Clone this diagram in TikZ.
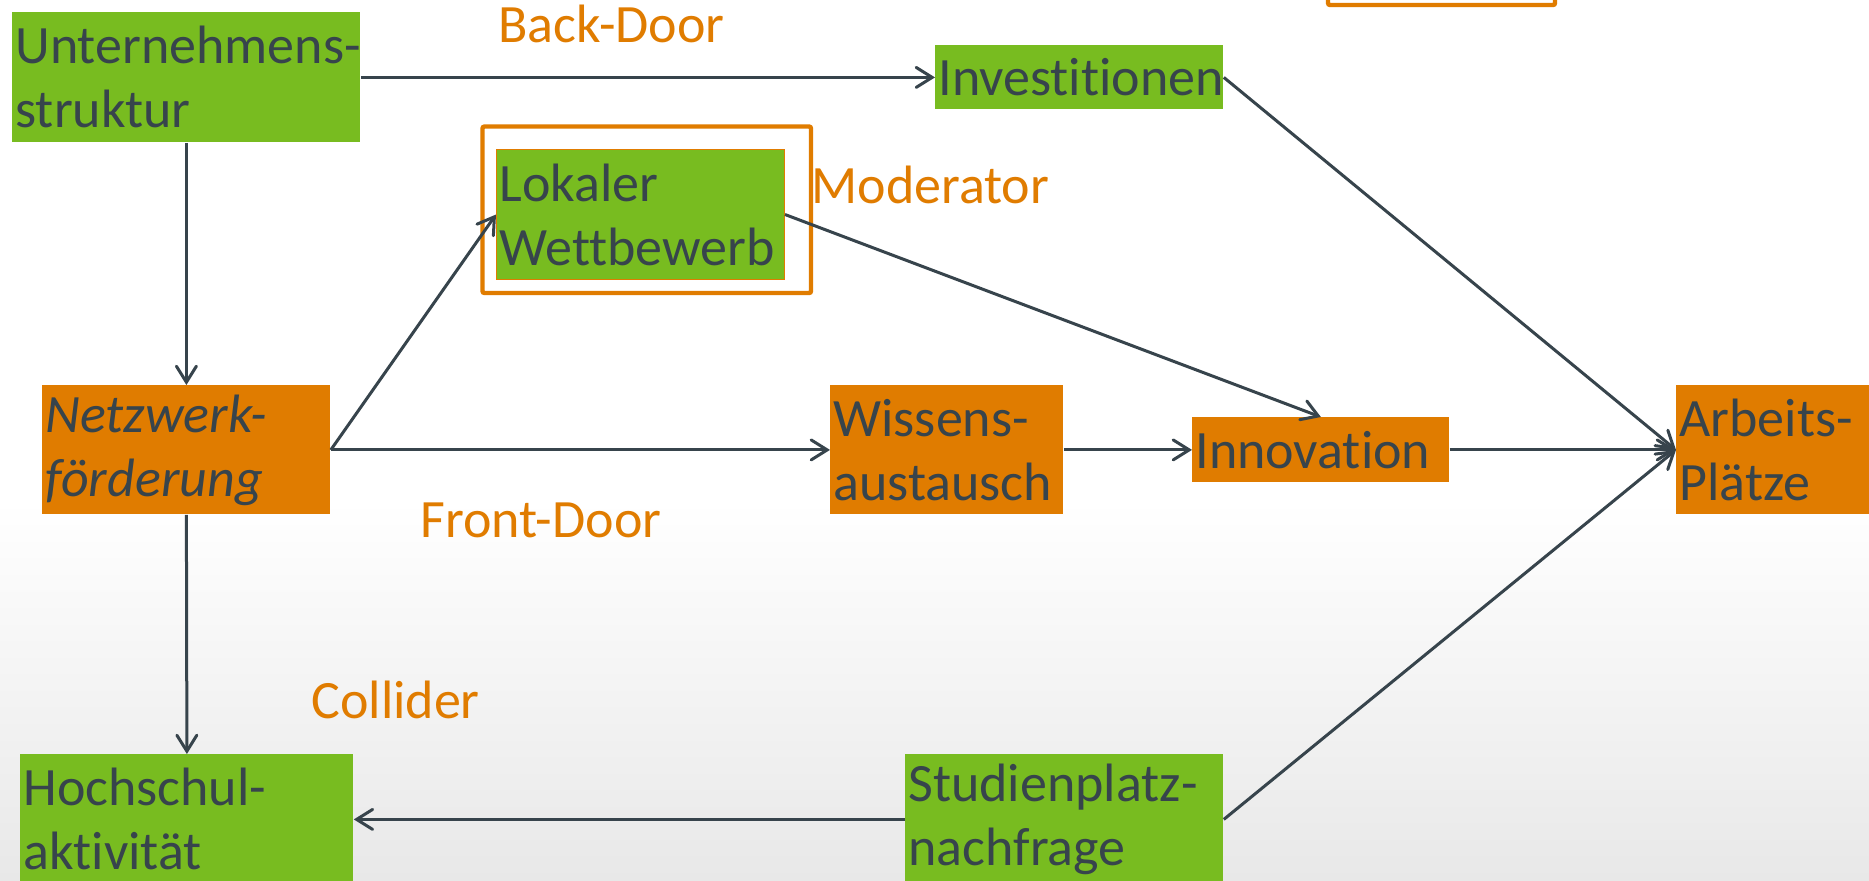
\documentclass[tikz,border=0pt]{standalone}
\usepackage{fontspec}
\setmainfont[Ligatures={NoCommon}]{Carlito}
\usetikzlibrary{arrows.meta}
\definecolor{boxgreen}{RGB}{120,188,32}
\definecolor{boxorange}{RGB}{224,124,0}
\definecolor{ink}{RGB}{55,68,76}
\hyphenpenalty=10000
\exhyphenpenalty=10000

\begin{document}
\begin{tikzpicture}[x=0.5pt, y=-0.5pt,
  every node/.style={font=\fontsize{27}{32}\selectfont, text=ink},
  nodebox/.style={anchor=north west, inner xsep=1.5pt, inner ysep=0pt, align=left},
  green box/.style={nodebox, fill=boxgreen},
  orange box/.style={nodebox, fill=boxorange},
  tag/.style={anchor=base west, inner sep=0pt, text=boxorange},
  link/.style={draw=ink, line width=1.5pt, -{Straight Barb[length=8pt,width=10pt,line cap=round]}},
  frame/.style={draw=boxorange, line width=2.2pt, rounded corners=1pt}]

% page and background
\useasboundingbox (0,0) rectangle (1869,880);
\fill[white] (0,0) rectangle (1869,500);
\shade[top color=white, bottom color=black!9] (0,500) rectangle (1869,880);
\clip (0,0) rectangle (1869,880);

% boxes
\node[green box, text width=171pt, minimum height=65pt] (unt) at (12,12) {Unternehmens-\\struktur};
\node[green box, text width=141pt, minimum height=32pt] (inv) at (935,45) {Investitionen};
\node[green box, draw=boxorange, line width=0.5pt, text width=141pt, minimum height=65pt] (lok) at (496,149) {Lokaler\\Wettbewerb};
\node[orange box, text width=141pt, minimum height=64.5pt, font=\fontsize{27}{32}\selectfont\itshape] (netz) at (42,385) {Netzwerk-\\förderung};
\node[orange box, text width=113.5pt, minimum height=64.5pt] (wis) at (830,385) {Wissens-\\austausch};
\node[orange box, text width=125.5pt, minimum height=32.5pt] (inn) at (1192,417) {Innovation};
\node[orange box, text width=122pt, minimum height=64.5pt] (arb) at (1676,385) {Arbeits-\\Plätze};
\node[green box, text width=163.5pt, minimum height=65pt] (hoch) at (20,754) {Hochschul-\\aktivität};
\node[green box, text width=156pt, minimum height=65pt] (stud) at (905,754) {Studienplatz-\\nachfrage};

% highlight frames
\draw[frame] ([xshift=-6.75pt,yshift=11.25pt]lok.north west) rectangle ([xshift=13pt,yshift=-6.5pt]lok.south east);
\draw[frame] (1328,-20) rectangle (1555,5);

% path labels
\node[tag] (bd) at (498,42) {Back-Door};
\node[tag] (mod) at (811,203) {Moderator};
\node[tag] (fd) at (420,537) {Front-Door};
\node[tag] (col) at (311,718) {Collider};

% connectors
\draw[link] (unt.east) -- (inv.west);
\draw[link] (unt.south) -- (netz.north);
\draw[link] (netz.east) -- (lok.west);
\draw[link] (netz.east) -- (wis.west);
\draw[link] (netz.south) -- (hoch.north);
\draw[link] (lok.east) -- (inn.north);
\draw[link] (wis.east) -- (inn.west);
\draw[link] (inn.east) -- (arb.west);
\draw[link] (inv.east) -- (arb.west);
\draw[link] (stud.east) -- (arb.west);
\draw[link] (stud.west) -- (hoch.east);
\end{tikzpicture}
\end{document}
